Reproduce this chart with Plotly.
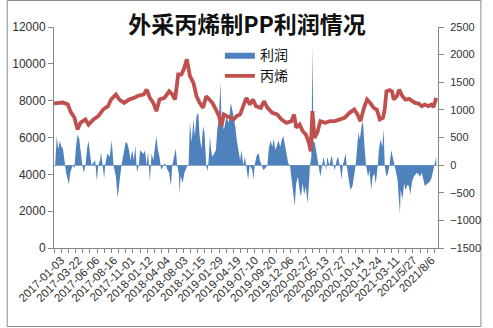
import plotly.graph_objects as go

# ---------------- data ----------------
# trading-day index (0 = 2017-01-03) and propylene price (left axis, 元/吨)
prop_day = [0, 26, 40, 49, 59, 68, 77, 91, 100, 114,
            128, 142, 156, 165, 179, 189, 203, 217, 231, 245,
            259, 268, 277, 287, 296, 305, 319, 333, 342, 350,
            359, 368, 375, 384, 393, 403, 412, 421, 431, 440,
            449, 458, 468, 477, 484, 491, 500, 510, 519, 528,
            538, 547, 556, 566, 575, 584, 598, 607, 617, 631,
            645, 658, 672, 686, 694, 700, 710, 719, 728, 737,
            742, 747, 753, 761, 770, 784, 798, 812, 826, 840,
            854, 868, 877, 886, 896, 905, 914, 924, 933, 937,
            942, 951, 956, 961, 970, 977, 982, 991, 998, 1007,
            1016, 1026, 1035, 1044, 1054, 1063, 1072, 1082, 1091, 1097,
            1105]
prop_price = [7850, 7900, 7790, 7360, 7090, 6435, 6810, 6980, 6700, 6980,
              7160, 7520, 7700, 8060, 8335, 8060, 7880, 8060, 8150, 8280,
              8335, 8600, 8150, 7880, 7430, 8060, 8150, 8510, 8335, 8060,
              9420, 9420, 9690, 10240, 9330, 8970, 8240, 7880, 7610, 8240,
              8060, 7880, 7520, 7160, 6610, 7250, 7160, 7070, 6980, 7160,
              7250, 7700, 8150, 7790, 8060, 7700, 7610, 7970, 7610, 7340,
              7250, 6980, 6800, 6890, 7250, 6530, 6710, 6340, 6160, 5710,
              5250, 7430, 5980, 6250, 6890, 6800, 6890, 6890, 6980, 7070,
              7340, 7520, 7250, 6890, 7610, 8060, 7880, 7610, 7520, 7250,
              6980, 7070, 7520, 8510, 8570, 8510, 8060, 8240, 8600, 8240,
              8060, 8100, 7970, 7880, 7840, 7700, 7790, 7700, 7790, 7660,
              8150]

# trading-day index and PP profit (right axis, 元/吨)
profit_day = [0, 3, 8, 12, 17, 21, 26, 31, 35, 43, 47, 54, 59, 63, 68, 73, 77, 82, 86, 91,
              96, 100, 105, 109, 119, 124, 128, 133, 136, 140, 145, 148, 154, 161, 167, 172, 179, 184, 189, 195,
              203, 207, 212, 217, 221, 226, 231, 235, 240, 245, 249, 254, 259, 263, 268, 272, 275, 277, 280, 282,
              287, 291, 296, 300, 305, 310, 314, 319, 324, 328, 333, 338, 342, 347, 352, 356, 361, 363, 366, 372,
              377, 384, 389, 393, 398, 403, 407, 412, 417, 421, 426, 431, 435, 440, 443, 446, 451, 454, 458, 463,
              468, 472, 477, 481, 484, 491, 499, 505, 511, 517, 524, 528, 533, 538, 542, 547, 552, 556, 561, 566,
              573, 577, 580, 586, 592, 595, 601, 605, 610, 617, 621, 626, 631, 635, 640, 645, 649, 654, 658, 663,
              668, 672, 677, 682, 686, 691, 696, 700, 705, 710, 714, 719, 723, 728, 733, 737, 740, 744, 747, 750,
              753, 756, 761, 765, 770, 775, 779, 784, 787, 790, 796, 803, 807, 812, 817, 821, 826, 831, 835, 843,
              846, 852, 857, 863, 868, 872, 880, 884, 889, 893, 898, 902, 908, 912, 917, 921, 926, 930, 936, 939,
              944, 949, 953, 956, 961, 965, 970, 975, 979, 984, 993, 996, 1000, 1002, 1007, 1012, 1016, 1021, 1026, 1030,
              1035, 1040, 1049, 1054, 1058, 1063, 1068, 1072, 1077, 1082, 1086, 1091, 1096, 1100, 1105]
profit_value = [0, -30, 525, 290, 435, 340, 290, 0, -140, -350, -140, 0, -60, 290, 555, 470, 200, 0, -140, 0,
                320, 435, 150, 0, 90, -290, 0, 90, 230, 0, -240, 0, 210, 150, 450, 0, -210, -590, -330, 0,
                270, 420, 390, 270, 90, 270, 90, 360, -140, 0, 270, 240, 200, 270, 0, 240, 0, -290, 0, 210,
                90, 300, 525, 290, 150, -90, -30, 30, 0, -90, -140, -380, 0, 150, 300, 0, -160, -530, -200, -320,
                -140, -30, 0, 770, 420, 830, 525, 890, 950, 525, 290, 700, 590, 0, -110, 0, 525, 270, 150, 210,
                270, 640, 890, 1500, 890, 640, 890, 760, 1130, 950, 700, 470, 290, 90, 270, 0, 150, 0, -260, 0,
                -90, -260, 0, 180, 210, 90, -30, -90, -60, 0, 300, 450, 330, 480, 270, 390, 450, 330, 450, 525,
                330, 150, 30, 0, -210, -390, -740, -330, -210, -450, -570, -330, -530, -390, -690, -330, 0, 150, 2150, 420,
                420, 330, 150, 0, -210, 0, 150, 0, -90, 150, 0, 180, 0, -90, 90, 150, 0, -260, 0, 210,
                0, -260, -450, -380, -210, 0, 590, 470, 700, 800, 290, 0, -210, -90, -450, -210, -150, -340, 0, 270,
                470, 330, 650, 0, -210, -150, 0, 270, 150, 0, -260, -530, -890, -450, -620, -330, -450, -360, -380, -530,
                -300, -210, -140, -170, -210, -140, -260, -380, -350, -330, -300, -240, -90, 0, 150]

tick_labels = ["2017-01-03", "2017-03-22", "2017-06-06", "2017-08-16", "2017-11-01",
               "2018-01-12", "2018-04-04", "2018-08-03", "2018-11-15", "2019-01-29",
               "2019-04-19", "2019-07-10", "2019-09-20", "2019-12-06", "2020-02-27",
               "2020-05-13", "2020-07-27", "2020-10-14", "2020-12-24", "2021-03-11",
               "2021/5/27", "2021/8/6"]

assert len(prop_day) == len(prop_price)
assert len(profit_day) == len(profit_value)

# ---------------- axis settings ----------------
N_DAYS = 1110
LABEL_START, LABEL_STEP = 20, 51
TICK_STEP = 20.75
label_pos = [LABEL_START + LABEL_STEP * i for i in range(len(tick_labels))]
minor_pos = [TICK_STEP * i for i in range(int(N_DAYS / TICK_STEP) + 1)]

AXIS_GRAY = "#868686"
TXT = "#303030"
BLUE = "#4F81BD"
RED = "#C0504D"

fig = go.Figure()
fig.add_trace(go.Scatter(
    x=profit_day, y=profit_value, name="利润", mode="lines",
    line=dict(width=0, color=BLUE), fill="tozeroy", fillcolor=BLUE,
    yaxis="y"))
fig.add_trace(go.Scatter(
    x=prop_day, y=prop_price, name="丙烯", mode="lines",
    line=dict(width=3.8, color=RED), yaxis="y2"))

fig.update_layout(
    width=493, height=328,
    margin=dict(l=49, r=46, t=27, b=80),
    paper_bgcolor="white", plot_bgcolor="white",
    title=dict(text="外采丙烯制PP利润情况", x=0.501, xref="container",
               y=1 - 25 / 328, yref="container", yanchor="middle", xanchor="center",
               font=dict(family="Noto Sans CJK SC", size=23, color="#111", weight=700)),
    legend=dict(x=0.432, y=0.945, xanchor="left", yanchor="top",
                bgcolor="rgba(0,0,0,0)", itemwidth=30, tracegroupgap=0,
                font=dict(family="Noto Sans CJK SC", size=14, color="#111")),
    showlegend=True,
    xaxis=dict(range=[0, N_DAYS], tickmode="array", tickvals=label_pos, ticktext=tick_labels,
               tickangle=-45, ticks="", showline=True, linecolor=AXIS_GRAY, linewidth=1,
               showgrid=False, zeroline=False,
               tickfont=dict(family="Liberation Sans", size=11.5, color=TXT),
               minor=dict(tickmode="array", tickvals=minor_pos, ticks="outside",
                          ticklen=4, tickcolor=AXIS_GRAY, tickwidth=1, showgrid=False)),
    yaxis=dict(side="right", range=[-1500, 2500], dtick=500, tick0=-1500, tickformat="d",
               showline=True, linecolor=AXIS_GRAY, ticks="outside", ticklen=5,
               tickcolor=AXIS_GRAY, showgrid=False, ticklabelstandoff=4,
               zeroline=True, zerolinecolor="#9DB5D8", zerolinewidth=1,
               tickfont=dict(family="Liberation Sans", size=11, color=TXT)),
    yaxis2=dict(side="left", overlaying="y", range=[0, 12000], dtick=2000, tickformat="d",
                showline=True, linecolor=AXIS_GRAY, ticks="outside", ticklen=5,
                tickcolor=AXIS_GRAY, showgrid=False, zeroline=False,
                tickfont=dict(family="Liberation Sans", size=12, color=TXT)),
)

# outer chart border
fig.add_shape(type="rect", xref="paper", yref="paper",
              x0=(0.5 - 49) / 398, x1=(491.5 - 49) / 398,
              y0=(248 - 326.5) / 221, y1=(248 - 0.5) / 221,
              line=dict(color="#8C8C8C", width=1), fillcolor="rgba(0,0,0,0)", layer="below")

fig.write_html("out.html")
